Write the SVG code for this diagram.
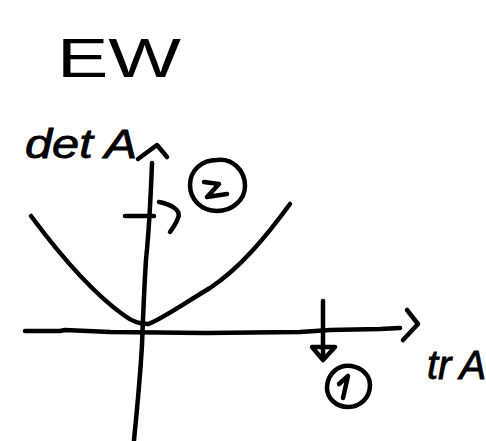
<svg xmlns="http://www.w3.org/2000/svg" width="486" height="441" viewBox="0 0 486 441">
<style>
.s{fill:none;stroke:#000;stroke-width:4.5;stroke-linecap:round;stroke-linejoin:round}
.t{font-family:"Liberation Sans",Arial,sans-serif;fill:#000}
</style>
<rect width="486" height="441" fill="#fff"/>
<g id="title"><text class="t" x="57" y="77" font-size="56" textLength="124" lengthAdjust="spacingAndGlyphs">EW</text></g>
<g id="ylabel"><text class="t" x="25" y="158" font-size="40" textLength="112" lengthAdjust="spacingAndGlyphs" font-style="italic" stroke="#000" stroke-width="0.8">det A</text></g>
<g id="xlabel"><text class="t" x="427" y="379" font-size="40" font-style="italic" stroke="#000" stroke-width="0.8">tr<tspan dx="8">A</tspan></text></g>
<g id="connectors">
<path class="s" d="M152,163 C151,190 149,230 146,260 C144,290 143,320 142,345 C140,380 137,410 134,440"/>
<path class="s" d="M138,159 L157,145 L167,157"/>
<path class="s" d="M25,331 L60,331 L65,330 L110,332 L205,333 L300,332 L330,330 L380,329 L400,328"/>
<path class="s" d="M407,310 L418,324 L403,340"/>
<path class="s" d="M31,216 C60,255 95,295 125,316 C133,322 140,324 148,324 C160,320 180,306 210,288 C240,268 265,238 290,204"/>
<path class="s" d="M125,216 L154,216"/>
<path class="s" d="M159,202 C170,204 182,210 178,218 C176,224 172,229 170,232"/>
<path class="s" d="M323,301 L323,356"/>
<path class="s" d="M312,347 L323,360 L335,347 Z"/>
</g>
<g id="node2">
<path class="s" d="M217,160 C232,158 245,170 245,186 C245,200 232,211 217,211 C202,211 190,200 190,185 C190,170 202,160 217,160 Z"/>
<path class="s" d="M204,182 L219,184 L207,197 L227,194"/>
</g>
<g id="node1">
<path class="s" d="M344,366 C356,364 370,372 370,385 C370,398 360,407 348,407 C336,407 327,398 327,388 C327,376 335,368 344,366"/>
<path class="s" d="M339,384 L348,376 L343,398"/>
</g>
</svg>
